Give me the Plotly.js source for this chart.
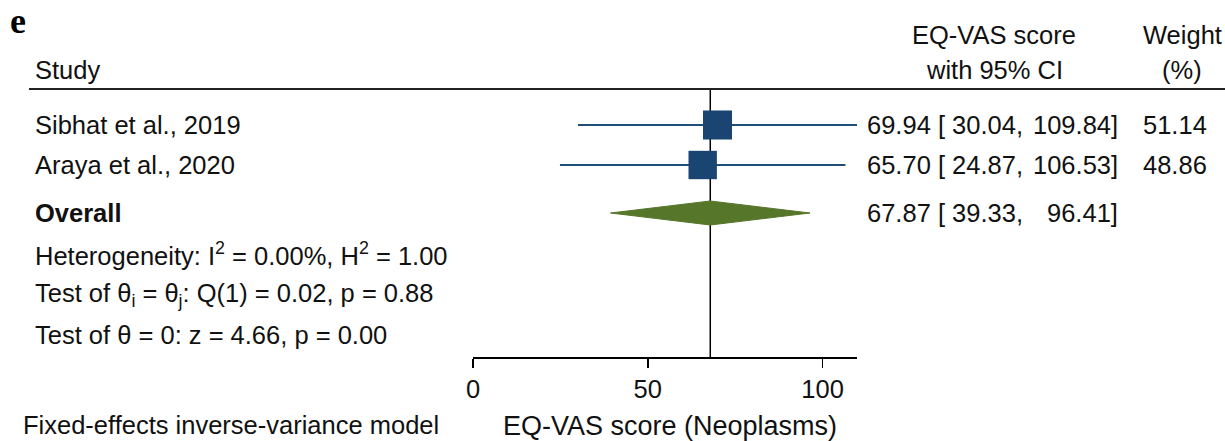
<!DOCTYPE html>
<html>
<head>
<meta charset="utf-8">
<script src="https://cdn.plot.ly/plotly-3.0.1.min.js"></script>
<style>html,body{margin:0;padding:0;background:#fff;}#chart{width:1225px;height:441px;}</style>
</head>
<body>
<div id="chart"></div>
<script>
// ---- data ----
const studies = ['Sibhat et al., 2019', 'Araya et al., 2020'];
const estimates = [69.94, 65.70];
const ciLower = [30.04, 24.87];
const ciUpper = [109.84, 106.53];
const weights = [51.14, 48.86];
const overallLabel = 'Overall';
const overallEstimate = 67.87;
const overallLower = 39.33;
const overallUpper = 96.41;
const statLines = [
  'Heterogeneity: I<sup>2</sup> = 0.00%, H<sup>2</sup> = 1.00',
  'Test of θ<sub>i</sub> = θ<sub>j</sub>: Q(1) = 0.02, p = 0.88',
  'Test of θ = 0: z = 4.66, p = 0.00'
];
const xTicks = [0, 50, 100];
const xTickLabels = ['0', '50', '100'];
const xRange = [0, 109.84];

// ---- layout helpers ----
const W = 1225, H = 441;
const L = 473, R = 368, T = 0, B = 84;
const plotW = W - L - R, plotH = H - T - B;
const px = p => (p - L) / plotW;          // pixel x -> paper x
const py = p => 1 - (p - T) / plotH;      // pixel y -> paper y
const FONT = 'Liberation Sans, Arial, sans-serif';
const FS = 25.5;
const TXT = '#111';
const studyRows = [1, 2];
const overallRow = 3.2;
const statRows = [4.22, 5.26, 6.25];
const ruleRow = 0.1;
const yRange = [6.8, -2.125];

const fmt = v => v.toFixed(2);

const traces = [];
// CI lines
studies.forEach((s, i) => {
  traces.push({
    x: [ciLower[i], ciUpper[i]], y: [studyRows[i], studyRows[i]],
    mode: 'lines', line: {color: '#1f4e79', width: 2}, hoverinfo: 'skip'
  });
});
// squares
traces.push({
  x: estimates, y: studyRows, mode: 'markers',
  marker: {symbol: 'square', color: '#1a4572', opacity: 1,
    size: weights.map(w => 4.06 * Math.sqrt(w)), line: {width: 0}},
  hoverinfo: 'skip'
});
// diamond
const dh = 0.3;
traces.push({
  x: [overallLower, overallEstimate, overallUpper, overallEstimate, overallLower],
  y: [overallRow, overallRow - dh, overallRow, overallRow + dh, overallRow],
  mode: 'lines', fill: 'toself', fillcolor: '#56762a',
  line: {color: '#56762a', width: 1}, hoverinfo: 'skip'
});

const ann = [];
function txt(text, xp, row, anchor, extra) {
  ann.push(Object.assign({
    text: text, xref: 'paper', yref: 'y', x: px(xp), y: row,
    xanchor: anchor, yanchor: 'middle', showarrow: false,
    font: {family: FONT, size: FS, color: TXT}
  }, extra || {}));
}
// panel letter
ann.push({text: '<b>e</b>', xref: 'paper', yref: 'paper', x: px(8), y: py(21),
  xanchor: 'left', yanchor: 'middle', showarrow: false,
  font: {family: 'Liberation Serif', size: 36, color: '#000'}});
// headers
txt('Study', 33, -0.375, 'left');
txt('EQ-VAS score', 994, -1.25, 'center');
txt('with 95% CI', 994, -0.375, 'center');
txt('Weight', 1182, -1.25, 'center');
txt('(%)', 1182, -0.375, 'center');
// study rows
studies.forEach((s, i) => {
  txt(s, 33, studyRows[i], 'left');
  txt(fmt(estimates[i]) + ' [ ' + fmt(ciLower[i]) + ',', 865, studyRows[i], 'left');
  txt(fmt(ciUpper[i]) + ']', 1120, studyRows[i], 'right');
  txt(fmt(weights[i]), 1209, studyRows[i], 'right');
});
// overall
txt('<b>' + overallLabel + '</b>', 33, overallRow, 'left');
txt(fmt(overallEstimate) + ' [ ' + fmt(overallLower) + ',', 865, overallRow, 'left');
txt(fmt(overallUpper) + ']', 1120, overallRow, 'right');
statLines.forEach((s, i) => txt(s, 33, statRows[i], 'left'));
// footer
ann.push({text: 'Fixed-effects inverse-variance model', xref: 'paper', yref: 'paper',
  x: px(21), y: py(425), xanchor: 'left', yanchor: 'middle', showarrow: false,
  font: {family: FONT, size: FS, color: TXT}});
ann.push({text: 'EQ-VAS score (Neoplasms)', xref: 'paper', yref: 'paper',
  x: px(670), y: py(426), xanchor: 'center', yanchor: 'middle', showarrow: false,
  font: {family: FONT, size: 27, color: TXT}});

const shapes = [
  {type: 'line', xref: 'paper', yref: 'y', x0: px(29), x1: px(1226), y0: ruleRow, y1: ruleRow,
   line: {color: '#222', width: 2}},
  {type: 'line', xref: 'x', yref: 'y', x0: overallEstimate, x1: overallEstimate,
   y0: ruleRow, y1: yRange[0], line: {color: '#000', width: 1.5}, layer: 'below'}
];

const layout = {
  width: W, height: H,
  margin: {l: L, r: R, t: T, b: B, pad: 0},
  paper_bgcolor: '#fff', plot_bgcolor: '#fff',
  showlegend: false,
  xaxis: {
    range: xRange, tickvals: xTicks, ticktext: xTickLabels,
    ticks: 'outside', ticklen: 9, tickwidth: 1.5, tickcolor: '#000',
    showline: true, linecolor: '#000', linewidth: 1.5,
    showgrid: false, zeroline: false, fixedrange: true,
    tickfont: {family: FONT, size: FS, color: TXT}
  },
  yaxis: {range: yRange, visible: false, fixedrange: true, showgrid: false, zeroline: false},
  annotations: ann,
  shapes: shapes
};

Plotly.newPlot('chart', traces, layout, {displayModeBar: false, staticPlot: true});
</script>
</body>
</html>
